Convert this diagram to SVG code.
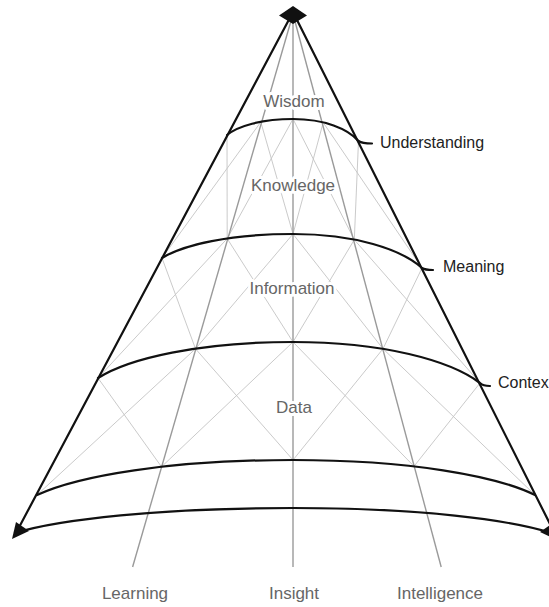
<svg xmlns="http://www.w3.org/2000/svg" width="549" height="607" viewBox="0 0 549 607">
<style>
.thick{fill:none;stroke:#111;stroke-width:2.2;stroke-linecap:round}
.ray{fill:none;stroke:#9a9a9a;stroke-width:1.4}
.mesh{fill:none;stroke:#c4c4c4;stroke-width:0.9}
.lbl{font-family:"Liberation Sans",Arial,sans-serif;font-size:17px;fill:#666;text-anchor:middle;stroke:#fff;stroke-width:6;paint-order:stroke;stroke-linejoin:round}
.side{font-family:"Liberation Sans",Arial,sans-serif;font-size:16px;fill:#222}
</style>
<rect width="549" height="607" fill="#fff"/>
<g id="mesh">
<path class="mesh" d="M227,135 L227.2,238.6 M260.8,122 L162,258 M260.8,122 L293,234 M293,119 L227.2,238.6 M293,119 L354.3,239.7 M323.2,122.5 L293,234 M323.2,122.5 L422,268 M358.5,141 L354.3,239.7"/>
<path class="mesh" d="M162,258 L195.5,348.8 M227.2,238.6 L98,378 M227.2,238.6 L293,342 M293,234 L195.5,348.8 M293,234 L383,348.8 M354.3,239.7 L293,342 M354.3,239.7 L480,383 M422,268 L383,348.8"/>
<path class="mesh" d="M98,378 L161.5,466.8 M195.5,348.8 L37,495 M195.5,348.8 L293,460 M293,342 L161.5,466.8 M293,342 L414,466.3 M383,348.8 L293,460 M383,348.8 L535,495 M480,383 L414,466.3"/>
</g>
<g id="rays">
<line class="ray" x1="293" y1="14" x2="132.6" y2="567"/>
<line class="ray" x1="293" y1="14" x2="293" y2="567"/>
<line class="ray" x1="293" y1="14" x2="441.2" y2="567"/>
</g>
<g id="cone">
<line class="thick" x1="293" y1="12" x2="16" y2="533"/>
<line class="thick" x1="293" y1="12" x2="555" y2="534"/>
<path id="understanding-curve" class="thick" d="M227,135 C237.6,126.2 261.3,119 293,119 C324.4,119 348,128.9 358.5,141 Q362,143.5 372,143.5"/>
<path id="meaning-curve" class="thick" d="M162,258 C183,244.8 230.1,234 293,234 C354.9,234 401.4,249.3 422,268 Q425,270 433,270"/>
<path id="context-curve" class="thick" d="M98,378 C129.2,358.2 199.4,342 293,342 C382.8,342 450.1,360.4 480,383 Q483,386 490,386"/>
<path class="thick" d="M37,495 C78,475.8 170.1,460 293,460 C409.2,460 496.3,475.8 535,495"/>
<path class="thick" d="M15,533 C59.5,519.3 159.6,508 293,508 C418.3,508 512.2,519.7 554,534"/>
<polygon points="293,6 279,15.5 293,24 307,15.5" fill="#111"/>
<polygon points="12,539 16,522 29,531" fill="#111"/>
<polygon points="557,540 553,523 540,532" fill="#111"/>
</g>
<g id="levels">
<text class="lbl" x="294" y="107">Wisdom</text>
<text class="lbl" x="293" y="191">Knowledge</text>
<text class="lbl" x="292" y="294">Information</text>
<text class="lbl" x="294" y="413">Data</text>
</g>
<g id="axes">
<text class="lbl" x="135" y="599">Learning</text>
<text class="lbl" x="294" y="599">Insight</text>
<text class="lbl" x="440" y="599">Intelligence</text>
</g>
<g id="side-labels">
<text class="side" x="380" y="148">Understanding</text>
<text class="side" x="443" y="272">Meaning</text>
<text class="side" x="498" y="388">Contex</text>
</g>
</svg>
